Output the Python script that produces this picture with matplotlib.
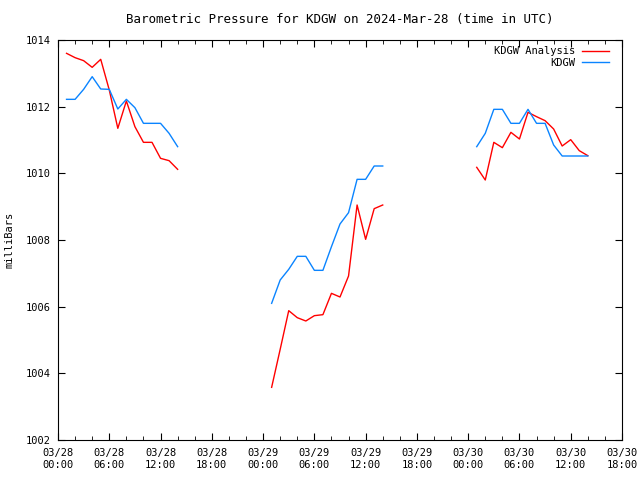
import numpy as np
import matplotlib
matplotlib.use("Agg")
import matplotlib.pyplot as plt

# hours since 2024-03-28 00:00 UTC for each of the three data segments
hours_a = [1, 2, 3, 4, 5, 6, 7, 8, 9, 10, 11, 12, 13, 14]
hours_b = [25, 26, 27, 28, 29, 30, 31, 32, 33, 34, 35, 36, 37, 38]
hours_c = [49, 50, 51, 52, 53, 54, 55, 56, 57, 58, 59, 60, 61, 62]

analysis_a = [1013.60, 1013.47, 1013.38, 1013.18, 1013.42, 1012.50, 1011.35,
              1012.17, 1011.40, 1010.93, 1010.93, 1010.45, 1010.38, 1010.12]
analysis_b = [1003.58, 1004.72, 1005.88, 1005.67, 1005.57, 1005.73, 1005.76,
              1006.40, 1006.29, 1006.92, 1009.05, 1008.02, 1008.94, 1009.05]
analysis_c = [1010.18, 1009.80, 1010.93, 1010.77, 1011.23, 1011.03, 1011.83,
              1011.70, 1011.58, 1011.33, 1010.82, 1011.01, 1010.68, 1010.53]

obs_a = [1012.22, 1012.22, 1012.52, 1012.90, 1012.53, 1012.52, 1011.93,
         1012.22, 1011.97, 1011.50, 1011.50, 1011.50, 1011.20, 1010.80]
obs_b = [1006.10, 1006.80, 1007.12, 1007.51, 1007.51, 1007.09, 1007.09,
         1007.80, 1008.48, 1008.82, 1009.82, 1009.82, 1010.22, 1010.22]
obs_c = [1010.80, 1011.20, 1011.92, 1011.92, 1011.50, 1011.50, 1011.92,
         1011.50, 1011.50, 1010.85, 1010.52, 1010.52, 1010.52, 1010.52]

tick_hours = [0, 6, 12, 18, 24, 30, 36, 42, 48, 54, 60, 66]
tick_labels = ["03/28\n00:00", "03/28\n06:00", "03/28\n12:00", "03/28\n18:00",
               "03/29\n00:00", "03/29\n06:00", "03/29\n12:00", "03/29\n18:00",
               "03/30\n00:00", "03/30\n06:00", "03/30\n12:00", "03/30\n18:00"]

plt.rcParams['font.family'] = ['DejaVu Sans Mono']
plt.rcParams['font.size'] = 7.5

fig = plt.figure(figsize=(6.4, 4.8), dpi=100)
ax = fig.add_axes([58 / 640, 40 / 480, 564 / 640, 400 / 480])

red = '#ff0000'
blue = '#0a84ff'
ax.plot(hours_a, analysis_a, color=red, lw=1, label='KDGW Analysis')
ax.plot(hours_b, analysis_b, color=red, lw=1)
ax.plot(hours_c, analysis_c, color=red, lw=1)
ax.plot(hours_a, obs_a, color=blue, lw=1, label='KDGW')
ax.plot(hours_b, obs_b, color=blue, lw=1)
ax.plot(hours_c, obs_c, color=blue, lw=1)

ax.set_xlim(0, 66)
ax.set_ylim(1002, 1014)
ax.set_xticks(tick_hours)
ax.set_xticklabels(tick_labels)
ax.set_xticks(np.arange(0, 67, 2), minor=True)
ax.set_yticks(np.arange(1002, 1015, 2))
ax.tick_params(which='both', direction='in', top=True, right=True, pad=6)
ax.tick_params(which='major', length=5)
ax.tick_params(which='minor', length=3)
ax.tick_params(axis='y', which='major', pad=5)

ax.set_ylabel('milliBars', labelpad=8)
ax.set_title('Barometric Pressure for KDGW on 2024-Mar-28 (time in UTC)', pad=12)

ax.legend(loc='upper right', bbox_to_anchor=(0.9876, 1.0), frameon=False,
          markerfirst=False, handlelength=2.6, handletextpad=0.6,
          borderaxespad=0.2, labelspacing=0.15)

fig.savefig('out.png', dpi=100)
